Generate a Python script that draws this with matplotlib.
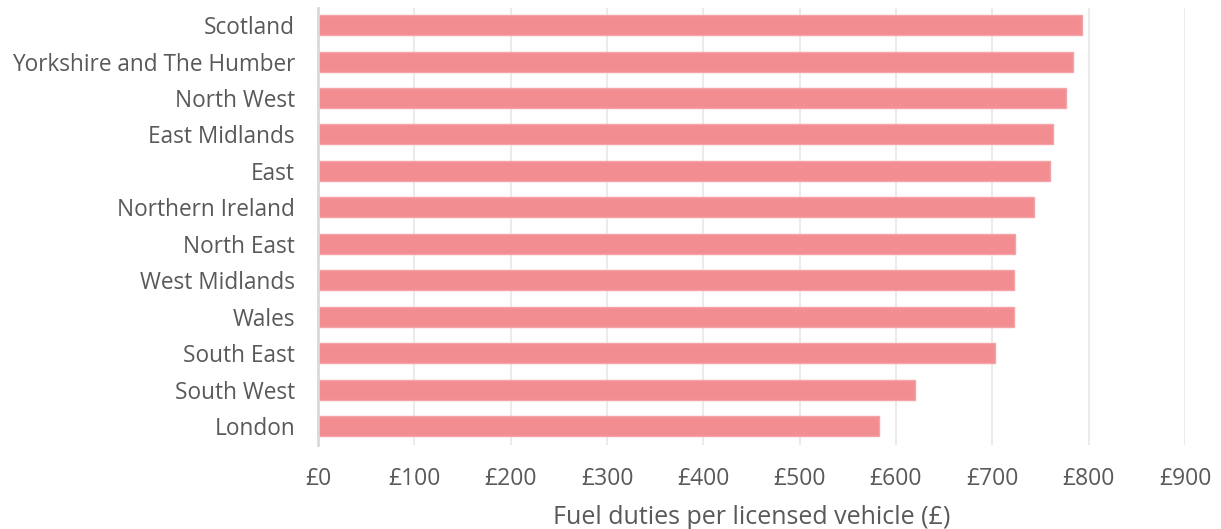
import matplotlib
matplotlib.use("Agg")
import matplotlib.pyplot as plt

regions = ["Scotland", "Yorkshire and The Humber", "North West", "East Midlands", "East",
           "Northern Ireland", "North East", "West Midlands", "Wales", "South East",
           "South West", "London"]
values = [793, 784, 776, 763, 760, 743, 724, 722, 722, 703, 620, 582]
xticks = [0, 100, 200, 300, 400, 500, 600, 700, 800, 900]
xticklabels = ["£" + str(v) for v in xticks]

plt.rcParams['font.family'] = ['Open Sans', 'DejaVu Sans']
fig = plt.figure(figsize=(12.21, 5.29), dpi=100)
ax = fig.add_axes([318/1221, 1-445/529, (1185-318)/1221, (445-8)/529])

ypos = list(range(len(regions)))
ax.barh(ypos, values, height=0.55, color="#f28e92", edgecolor="#f4a4a7", linewidth=1, zorder=3)
ax.set_ylim(len(regions) - 1 + 0.52, -0.47)
ax.set_xlim(0, 900)
ax.set_xticks(xticks)
ax.set_xticklabels(xticklabels)
ax.set_yticks(ypos)
ax.set_yticklabels(regions)
ax.tick_params(axis='both', length=0, colors="#595959")
ax.tick_params(axis='y', pad=16.5, labelsize=16.3)
ax.tick_params(axis='x', pad=16, labelsize=16.5)
ax.grid(axis='x', color="#ebebeb", linewidth=1.5, zorder=0)
for s in ["top", "right", "bottom"]:
    ax.spines[s].set_visible(False)
ax.spines["left"].set_color("#d9d9d9")
ax.spines["left"].set_linewidth(2)
ax.spines["left"].set_zorder(4)
ax.set_xlabel("Fuel duties per licensed vehicle (£)", fontsize=18, color="#595959", labelpad=10)

fig.savefig("out.png", dpi=100)
